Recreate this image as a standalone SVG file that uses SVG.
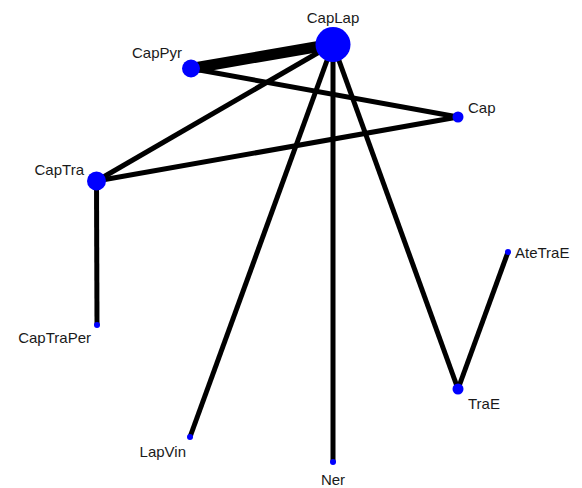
<svg xmlns="http://www.w3.org/2000/svg" width="582" height="488" viewBox="0 0 582 488">
<style>
.e{stroke:#000;stroke-width:5;stroke-linecap:butt;fill:none}
.n{fill:#0000ff}
text{font-family:"Liberation Sans",Arial,sans-serif;font-size:15px;fill:#1a1a1a}
</style>
<rect width="582" height="488" fill="#fff"/>
<g id="edges">
<line class="e" x1="333" y1="44" x2="191" y2="68.5" style="stroke-width:11"/>
<line class="e" x1="333" y1="44" x2="96.5" y2="181"/>
<line class="e" x1="333" y1="44" x2="190" y2="437"/>
<line class="e" x1="333" y1="44" x2="333" y2="462"/>
<line class="e" x1="333" y1="44" x2="458" y2="389"/>
<line class="e" x1="191" y1="68.5" x2="458" y2="117"/>
<line class="e" x1="96.5" y1="181" x2="458" y2="117"/>
<line class="e" x1="96.5" y1="181" x2="97" y2="325"/>
<line class="e" x1="458" y1="389" x2="508" y2="252"/>
</g>
<g id="CapLap"><circle class="n" cx="333" cy="44.5" r="17.5"/><text x="333" y="23" text-anchor="middle">CapLap</text></g>
<g id="CapPyr"><circle class="n" cx="191" cy="68.5" r="9"/><text x="182" y="58" text-anchor="end">CapPyr</text></g>
<g id="Cap"><circle class="n" cx="458" cy="117" r="5.5"/><text x="468" y="113">Cap</text></g>
<g id="CapTra"><circle class="n" cx="96.5" cy="181" r="9.5"/><text x="84" y="175" text-anchor="end">CapTra</text></g>
<g id="CapTraPer"><circle class="n" cx="97" cy="325" r="3"/><text x="91" y="343" text-anchor="end">CapTraPer</text></g>
<g id="LapVin"><circle class="n" cx="190" cy="437" r="3"/><text x="186" y="457" text-anchor="end">LapVin</text></g>
<g id="Ner"><circle class="n" cx="333" cy="462" r="3"/><text x="333" y="485" text-anchor="middle">Ner</text></g>
<g id="TraE"><circle class="n" cx="458" cy="389" r="5.5"/><text x="468" y="409">TraE</text></g>
<g id="AteTraE"><circle class="n" cx="508" cy="252" r="3"/><text x="515" y="258">AteTraE</text></g>
</svg>
